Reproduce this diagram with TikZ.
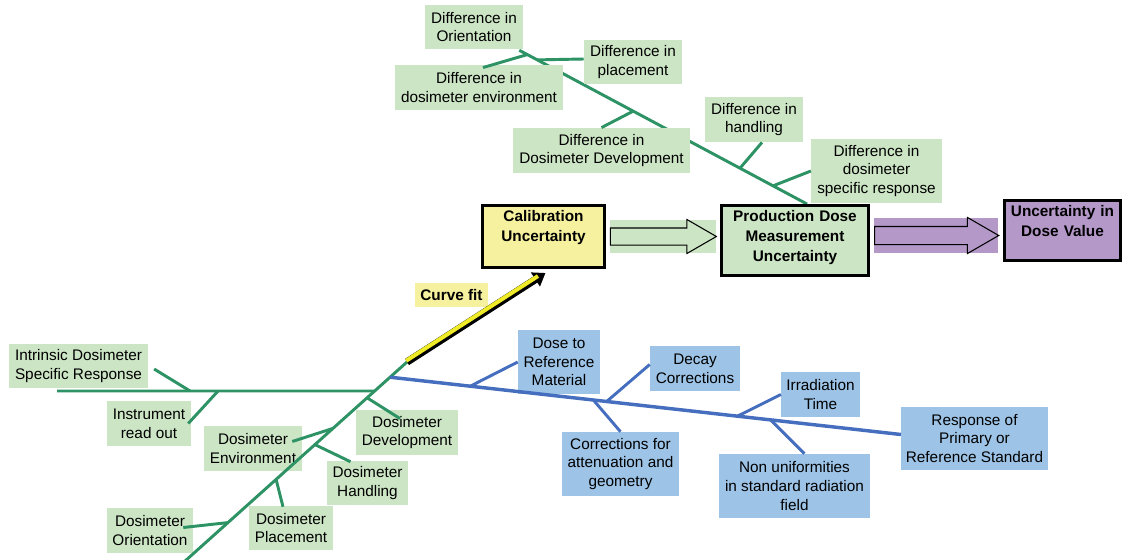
\documentclass[tikz,border=0pt]{standalone}
\usepackage{fontspec}
\setmainfont{Liberation Sans}
\usetikzlibrary{shapes.arrows, arrows.meta, calc, backgrounds}
\definecolor{causegreen}{RGB}{204,229,197}
\definecolor{sourceblue}{RGB}{157,195,230}
\definecolor{resultpurple}{RGB}{180,152,200}
\definecolor{fityellow}{RGB}{245,241,158}
\definecolor{arrowyellow}{RGB}{240,235,40}
\definecolor{bonegreen}{RGB}{45,146,100}
\definecolor{boneblue}{RGB}{70,110,190}
\tikzset{
    cause/.style={rectangle, fill=causegreen, align=center, inner sep=1pt, font=\fontsize{11.5}{14}\selectfont},
    source/.style={cause, fill=sourceblue},
    result/.style={rectangle, draw=black, line width=2.25pt, align=center, inner sep=3pt, text height=9pt, font=\fontsize{11.5}{15}\selectfont\bfseries},
    blockarrow/.style={single arrow, draw=black, line width=0.8pt, inner sep=0pt, text depth=0pt, single arrow tip angle=60, anchor=tail},
    arrowpad/.style={rectangle, inner sep=0pt},
    greenbone/.style={draw=bonegreen, line width=2.2pt},
    bluebone/.style={draw=boneblue, line width=2.2pt},
    fitarrow/.style={line width=5.5pt, -{Triangle[length=9pt, width=12pt]}, postaction={draw=arrowyellow, line width=3pt, -, shorten >=6pt, transform canvas={xshift=-0.6pt, yshift=0.95pt}}}
}
\begin{document}
\begin{tikzpicture}[x=0.75pt, y=-0.75pt]
    \useasboundingbox (0,0) rectangle (1125,560);
    % Results
    \node (calib) [result, fill=fityellow, text width=85.5pt, text depth=31.5pt] at (543.5,236.5) {Calibration\\Uncertainty};
    \node (prod) [result, fill=causegreen, text width=104pt, text depth=37.5pt] at (795,240.5) {Production Dose\\Measurement\\Uncertainty};
    \node (dose) [result, fill=resultpurple, text width=81pt, text depth=30pt] at (1062.5,230.5) {Uncertainty in\\Dose Value};
    % Block arrows
    \path (calib.east) -- node[arrowpad, fill=causegreen, minimum width=79.5pt, minimum height=24.75pt] (calpad) {} (calib.east -| prod.west);
    \node (calarrow) [blockarrow, fill=causegreen, minimum height=79.5pt, text height=12pt, single arrow head extend=6.4pt] at (calpad.west) {};
    \path (prod.east) -- node[arrowpad, fill=resultpurple, minimum width=93pt, minimum height=26.25pt] (prodpad) {} (dose.west);
    \node (prodarrow) [blockarrow, fill=resultpurple, minimum height=93pt, text height=12.75pt, single arrow head extend=6.75pt] at (prodpad.west) {};
    % Production causes
    \node (dorient) [cause, minimum width=73.5pt, minimum height=33pt] at (474,27) {Difference in\\Orientation};
    \node (dplace) [cause, minimum width=73.5pt, minimum height=33pt] at (633,62) {Difference in\\placement};
    \node (denv) [cause, minimum width=126pt, minimum height=34pt] at (479,87.5) {Difference in\\dosimeter environment};
    \node (ddev) [cause, minimum width=133pt, minimum height=34pt] at (601.5,150.5) {Difference in\\Dosimeter Development};
    \node (dhand) [cause, minimum width=73.5pt, minimum height=34pt] at (754,119.5) {Difference in\\handling};
    \node (dspec) [cause, minimum width=98pt, minimum height=48pt] at (876.5,171) {Difference in\\dosimeter\\specific response};
    % Calibration causes
    \node (intr) [cause, minimum width=104pt, minimum height=33pt] at (78.5,366) {Intrinsic Dosimeter\\Specific Response};
    \node (instr) [cause, minimum width=63pt, minimum height=34pt] at (149,423.5) {Instrument\\read out};
    \node (dosdev) [cause, minimum width=76.5pt, minimum height=34pt] at (407,432.5) {Dosimeter\\Development};
    \node (dosenv) [cause, minimum width=73.5pt, minimum height=34pt] at (253,448.5) {Dosimeter\\Environment};
    \node (doshand) [cause, minimum width=61pt, minimum height=33pt] at (367.5,483) {Dosimeter\\Handling};
    \node (dosplace) [cause, minimum width=63pt, minimum height=33pt] at (291,528) {Dosimeter\\Placement};
    \node (dosorient) [cause, minimum width=64.5pt, minimum height=34pt] at (150,530.5) {Dosimeter\\Orientation};
    \node (fitlabel) [cause, fill=fityellow, font=\fontsize{11.5}{14}\selectfont\bfseries, minimum width=55pt, minimum height=18pt] at (451.5,295) {Curve fit};
    % Reference causes
    \node (doseref) [source, minimum width=61.5pt, minimum height=48pt] at (559,362) {Dose to\\Reference\\Material};
    \node (decay) [source, minimum width=67.5pt, minimum height=34pt] at (695,368.5) {Decay\\Corrections};
    \node (corr) [source, minimum width=88pt, minimum height=48pt] at (620.5,464) {Corrections for\\attenuation and\\geometry};
    \node (irr) [source, minimum width=59pt, minimum height=34pt] at (820.5,394.5) {Irradiation\\Time};
    \node (nonuni) [source, minimum width=113pt, minimum height=48pt] at (794.5,486) {Non uniformities\\in standard radiation\\field};
    \node (resp) [source, minimum width=110pt, minimum height=47pt] at (974.5,438.5) {Response of\\Primary or\\Reference Standard};
    % Production bone
    \begin{scope}[on background layer]
    \draw [greenbone] ($(dorient.south east)+(-4,1)$) -- coordinate[pos=0.028] (jdenv) coordinate[pos=0.0625] (jdplace)
        coordinate[pos=0.396] (jddev) coordinate[pos=0.767] (jdhand) coordinate[pos=0.882] (jdspec) ($(prod.north)+(12,0)$);
    \end{scope}
    \draw [greenbone] (jdenv) -- ($(denv.north)+(4,3)$);
    \draw [greenbone] (jdplace) -- ($(dplace.west)+(0,-3)$);
    \draw [greenbone] (jddev) -- (ddev.north);
    \draw [greenbone] (jdhand) -- ($(dhand.south)+(8,0)$);
    \draw [greenbone] (jdspec) -- (dspec.west);
    % Calibration bone
    \coordinate (spinebot) at (184,562);
    \coordinate (fitbase) at (407,362);
    \coordinate (hstart) at (57,391);
    \draw [greenbone] (spinebot) -- coordinate[pos=0.197] (jorient) coordinate[pos=0.413] (jplace) coordinate[pos=0.587] (jhand)
        coordinate[pos=0.668] (jenv) coordinate[pos=0.821] (jdev) coordinate[pos=0.855] (jmain) coordinate[pos=0.924] (jsource) (fitbase);
    \draw [greenbone] (hstart) -- coordinate[pos=0.419] (jintr) coordinate[pos=0.507] (jinstr) (jmain);
    \draw [greenbone] (jintr) -- ($(intr.east)+(6,3)$);
    \draw [greenbone] (jinstr) -- ($(instr.east)+(-3,0)$);
    \draw [greenbone] (jdev) -- ($(dosdev.north)+(-7,9)$);
    \draw [greenbone] (jenv) -- ($(dosenv.east)+(-10,-7)$);
    \draw [greenbone] (jhand) -- ($(doshand.north)+(-17,1)$);
    \draw [greenbone] (jplace) -- ($(dosplace.north)+(-8,1)$);
    \draw [greenbone] (jorient) -- ($(dosorient.east)+(-10,-3)$);
    % Reference bone
    \draw [bluebone, line width=2.6pt] (jsource) -- coordinate[pos=0.157] (jref) coordinate[pos=0.398] (jcorr) coordinate[pos=0.424] (jdecay)
        coordinate[pos=0.680] (jirr) coordinate[pos=0.745] (jnonuni) ($(resp.west)+(0,-4)$);
    \draw [bluebone] (jref) -- (doseref.west);
    \draw [bluebone] (jdecay) -- ($(decay.west)+(0,-4)$);
    \draw [bluebone] (jcorr) -- (corr.north);
    \draw [bluebone] (jirr) -- (irr.west);
    \draw [bluebone] (jnonuni) -- ($(nonuni.north)+(10,0)$);
    % Curve fit
    \draw [fitarrow] (fitbase) -- ($(calib.south)+(2,4)$);
\end{tikzpicture}
\end{document}
